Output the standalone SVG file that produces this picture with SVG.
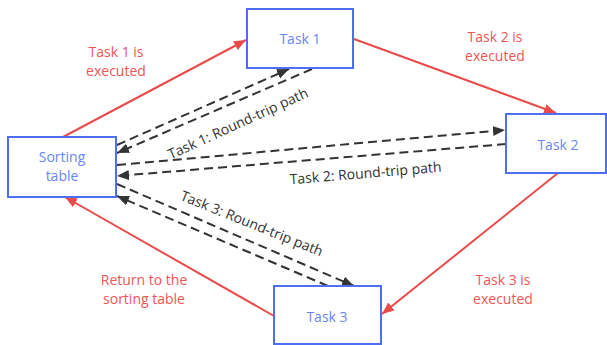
<svg xmlns="http://www.w3.org/2000/svg" width="607" height="345" viewBox="0 0 607 345">
<style>
.node rect{fill:#fff;stroke:#4d6ef5;stroke-width:2}
.node text{fill:#6a86f2;font-family:"Open Sans","Noto Sans",sans-serif;font-size:14px;text-anchor:middle}
.red{stroke:#e94b4b;stroke-width:2;fill:none;marker-end:url(#ra)}
.dash{stroke:#333;stroke-width:2;fill:none;stroke-dasharray:9 5;marker-end:url(#da)}
.rl{fill:#ef5555;font-family:"Open Sans","Noto Sans",sans-serif;font-size:14px;text-anchor:middle}
.dl{fill:#333;font-family:"Open Sans","Noto Sans",sans-serif;font-size:14px;text-anchor:middle}
</style>
<defs>
<marker id="ra" markerUnits="userSpaceOnUse" markerWidth="14" markerHeight="12" refX="12" refY="6" orient="auto"><path d="M0,1 L12,6 L0,11 z" fill="#e94b4b"/></marker>
<marker id="da" markerUnits="userSpaceOnUse" markerWidth="14" markerHeight="12" refX="12" refY="6" orient="auto"><path d="M0,1 L12,6 L0,11 z" fill="#333"/></marker>
</defs>
<rect width="607" height="345" fill="#fff"/>
<g id="connectors">
<line class="red" x1="63" y1="137" x2="246" y2="40"/>
<line class="red" x1="354" y1="39" x2="556" y2="113"/>
<line class="red" x1="558" y1="173" x2="382" y2="314"/>
<line class="red" x1="274" y1="316" x2="65" y2="197"/>
<line class="dash" x1="117" y1="145" x2="289" y2="69"/>
<line class="dash" x1="312" y1="69" x2="117" y2="153"/>
<line class="dash" x1="117" y1="165" x2="505" y2="130"/>
<line class="dash" x1="506" y1="144" x2="117" y2="176"/>
<line class="dash" x1="117" y1="184" x2="354" y2="286"/>
<line class="dash" x1="328" y1="286" x2="117" y2="196"/>
<text class="rl"><tspan x="116" y="57">Task 1 is</tspan><tspan x="116" y="76">executed</tspan></text>
<text class="rl"><tspan x="495" y="42">Task 2 is</tspan><tspan x="495" y="61">executed</tspan></text>
<text class="rl"><tspan x="503" y="285">Task 3 is</tspan><tspan x="503" y="304">executed</tspan></text>
<text class="rl"><tspan x="144" y="285">Return to the</tspan><tspan x="144" y="304">sorting table</tspan></text>
<text class="dl" transform="translate(240,128) rotate(-24.5)">Task 1: Round-trip path</text>
<text class="dl" transform="translate(366,178) rotate(-4.8)">Task 2: Round-trip path</text>
<text class="dl" transform="translate(250,228) rotate(22)">Task 3: Round-trip path</text>
</g>
<g id="sorting" class="node"><rect x="8" y="137" width="108" height="60"/><text x="62" y="162">Sorting</text><text x="62" y="181">table</text></g>
<g id="task1" class="node"><rect x="247" y="9" width="106" height="59"/><text x="300" y="44">Task 1</text></g>
<g id="task2" class="node"><rect x="506" y="114" width="100" height="59"/><text x="558" y="150">Task 2</text></g>
<g id="task3" class="node"><rect x="274" y="286" width="107" height="58"/><text x="327" y="322">Task 3</text></g>
</svg>
